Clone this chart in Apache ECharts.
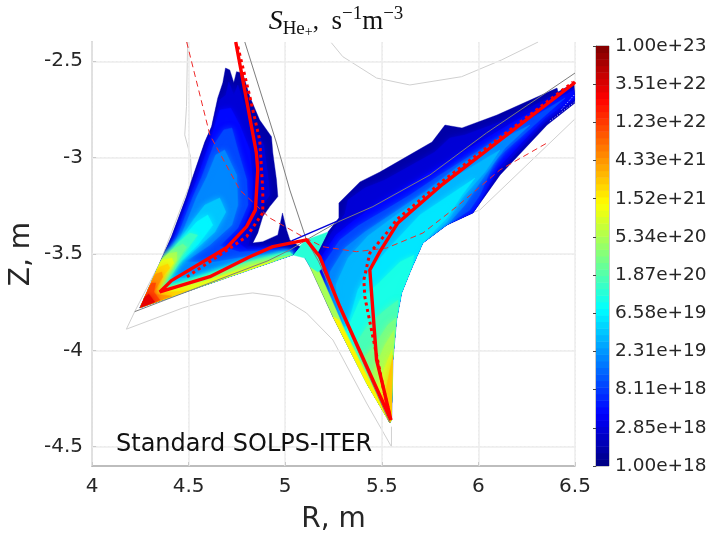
<!DOCTYPE html>
<html><head><meta charset="utf-8">
<script src="https://cdn.jsdelivr.net/npm/echarts@6/dist/echarts.min.js"></script>
<style>html,body{margin:0;background:#fff}#c{width:710px;height:534px}</style></head>
<body><div id="c"></div>
<script>
const rTicks=[4,4.5,5,5.5,6,6.5];
const zTicks=[-4.5,-4,-3.5,-3,-2.5];
const cbLabels=['1.00e+18','2.85e+18','8.11e+18','2.31e+19','6.58e+19','1.87e+20','5.34e+20','1.52e+21','4.33e+21','1.23e+22','3.51e+22','1.00e+23'];

const redSolid=[[4.744,-2.4],[4.851,-2.976],[4.858,-3.064],[4.846,-3.271],[4.8,-3.358],[4.696,-3.468],[4.411,-3.638],[4.351,-3.697],[4.61,-3.618],[4.817,-3.514],[4.936,-3.462],[5.11,-3.427],[5.179,-3.514],[5.283,-3.774],[5.547,-4.361],[5.507,-4.188],[5.473,-4.05],[5.438,-3.583],[5.49,-3.488],[5.583,-3.339],[5.816,-3.137],[6.49,-2.618],[6.5,-2.607]];
const redDotted=[[4.755,-2.424],[4.817,-2.684],[4.868,-2.908],[4.884,-3.168],[4.884,-3.287],[4.8,-3.41],[4.677,-3.495],[4.48,-3.626]];
const redDotted2=[[5.547,-4.361],[5.506,-4.188],[5.412,-3.722],[5.407,-3.635],[5.438,-3.495],[5.531,-3.384],[5.576,-3.323],[5.817,-3.12],[6.49,-2.608]];
const redDashed=[[4.49,-2.4],[4.61,-2.882],[4.765,-3.168],[4.92,-3.313],[5.091,-3.41],[5.194,-3.462],[5.369,-3.488],[5.525,-3.469],[5.713,-3.391],[5.888,-3.254],[6.111,-3.064],[6.355,-2.924]];
const blueLine=[[5.033,-3.432],[5.273,-3.328]];
const grayA=[[4.791,-2.4],[4.955,-2.924],[5.024,-3.168],[5.11,-3.427],[5.174,-3.541],[5.541,-4.376]];
const grayB=[[4.221,-3.799],[4.911,-3.535],[5.024,-3.479],[5.127,-3.417],[5.272,-3.334],[5.454,-3.254],[5.749,-3.09],[6.042,-2.872],[6.5,-2.561]];
const wallLow=[[4.178,-3.89],[4.47,-3.78],[4.661,-3.723],[4.832,-3.702],[4.972,-3.721],[5.11,-3.806],[5.247,-3.946],[5.421,-4.273],[5.55,-4.5],[5.55,-4.396]];
const wallLeft=[[4.178,-3.89],[4.221,-3.799],[4.351,-3.546],[4.515,-3.116],[4.51,-2.995],[4.48,-2.882],[4.489,-2.735],[4.495,-2.4]];
const wallTop=[[5.239,-2.404],[5.298,-2.476],[5.473,-2.587],[5.645,-2.623],[5.913,-2.58],[6.12,-2.493],[6.309,-2.4]];
const wallRight=[[5.966,-3.287],[6.008,-3.271],[6.5,-2.799]];
const speckA=[[6.43,-2.75],[6.5,-2.67]];
const speckB=[[6.37,-2.81],[6.5,-2.71]];

const tip=[4.247,-3.78], stripEnd=[5.039,-3.505];
const L1=[tip,[4.351,-3.546],[4.411,-3.41],[4.489,-3.202],[4.522,-3.099],[4.584,-2.918],[4.619,-2.839],[4.651,-2.69],[4.677,-2.612],[4.691,-2.535],[4.713,-2.545],[4.734,-2.612],[4.748,-2.554],[4.78,-2.561],[4.817,-2.684],[4.868,-2.805],[4.929,-2.891],[4.936,-2.976],[4.955,-3.116],[4.962,-3.202],[4.92,-3.254],[4.884,-3.306],[4.858,-3.391],[4.832,-3.443],[4.884,-3.436],[4.962,-3.401],[4.986,-3.287],[5.007,-3.375],[5.024,-3.427],[5.076,-3.462],stripEnd];
const L2=[tip,[4.358,-3.546],[4.418,-3.412],[4.496,-3.204],[4.532,-3.1],[4.594,-2.919],[4.63,-2.841],[4.661,-2.701],[4.693,-2.675],[4.708,-2.607],[4.734,-2.675],[4.755,-2.623],[4.781,-2.701],[4.827,-2.831],[4.889,-2.934],[4.91,-3.09],[4.92,-3.194],[4.858,-3.282],[4.827,-3.386],[4.807,-3.458],[4.895,-3.469],[5.024,-3.469],[5.076,-3.479],stripEnd];
const L3=[tip,[4.366,-3.546],[4.428,-3.412],[4.506,-3.204],[4.547,-3.1],[4.61,-2.919],[4.661,-2.753],[4.718,-2.742],[4.765,-2.831],[4.817,-2.96],[4.832,-3.116],[4.827,-3.246],[4.786,-3.355],[4.739,-3.427],[4.807,-3.479],[4.931,-3.464],[5.039,-3.479],stripEnd];
const L4=[tip,[4.371,-3.541],[4.439,-3.417],[4.522,-3.204],[4.568,-3.1],[4.63,-2.934],[4.682,-2.856],[4.724,-2.846],[4.755,-2.96],[4.801,-3.116],[4.807,-3.246],[4.755,-3.365],[4.661,-3.458],[4.765,-3.49],[4.92,-3.479],[5.039,-3.49],stripEnd];
const L5=[tip,[4.377,-3.541],[4.459,-3.412],[4.542,-3.204],[4.594,-3.1],[4.64,-2.986],[4.687,-2.96],[4.749,-3.09],[4.755,-3.246],[4.724,-3.35],[4.61,-3.453],[4.48,-3.541],[4.636,-3.541],[4.817,-3.51],[5.039,-3.495],stripEnd];
const L6=[tip,[4.382,-3.541],[4.454,-3.427],[4.532,-3.313],[4.584,-3.246],[4.661,-3.209],[4.693,-3.282],[4.636,-3.386],[4.532,-3.479],[4.444,-3.557],[4.403,-3.625],[4.506,-3.625],[4.687,-3.573],[4.972,-3.505],stripEnd];
const L7=[tip,[4.392,-3.521],[4.47,-3.417],[4.542,-3.334],[4.599,-3.298],[4.625,-3.35],[4.547,-3.453],[4.454,-3.541],[4.408,-3.614],[4.366,-3.676],[4.532,-3.625],[4.765,-3.552],[4.998,-3.49],stripEnd];
const L8=[tip,[4.377,-3.521],[4.444,-3.443],[4.506,-3.391],[4.547,-3.402],[4.49,-3.479],[4.428,-3.557],[4.392,-3.625],[4.351,-3.687],[4.558,-3.625],[4.765,-3.557],[5.024,-3.49],stripEnd];
const L9=[tip,[4.351,-3.541],[4.413,-3.479],[4.47,-3.448],[4.49,-3.464],[4.444,-3.531],[4.403,-3.594],[4.366,-3.661],[4.345,-3.702],[4.584,-3.625],[4.817,-3.541],stripEnd];
const L10=[tip,[4.33,-3.557],[4.392,-3.5],[4.439,-3.49],[4.439,-3.531],[4.403,-3.583],[4.366,-3.645],[4.34,-3.702],[4.584,-3.64],[4.817,-3.557],[5.024,-3.505]];
const L11=[tip,[4.315,-3.594],[4.366,-3.531],[4.413,-3.521],[4.423,-3.546],[4.387,-3.594],[4.356,-3.656],[4.33,-3.702],[4.558,-3.65],[4.817,-3.568],[4.946,-3.536]];
const L12=[tip,[4.304,-3.625],[4.351,-3.568],[4.392,-3.552],[4.403,-3.573],[4.366,-3.614],[4.34,-3.676],[4.32,-3.707],[4.506,-3.687]];
const L13=[tip,[4.294,-3.65],[4.33,-3.604],[4.361,-3.594],[4.366,-3.619],[4.335,-3.671],[4.309,-3.707],[4.413,-3.718]];
const L14=[tip,[4.278,-3.692],[4.309,-3.65],[4.33,-3.65],[4.32,-3.697],[4.351,-3.739]];
const L15=[tip,[4.268,-3.728],[4.294,-3.707],[4.309,-3.728],[4.325,-3.749]];
const leftValues=[1.5e18,2.5e18,5e18,1e19,2e19,4e19,7e19,1.3e20,2.5e20,5e20,1e21,2e21,4e21,1e22,3e22];

const legTail=[[5.713,-3.443],[5.651,-3.583],[5.603,-3.702],[5.577,-3.842],[5.558,-4.05],[5.551,-4.361],[5.542,-4.377]];
const mid=[5.421,-4.17], lowEdge=[5.247,-3.825], fan1=[5.972,-3.287], fan2=[5.837,-3.35];
const R1=[[5.164,-3.5],[5.221,-3.386],[5.278,-3.313],[5.278,-3.235],[5.387,-3.126],[5.49,-3.075],[5.76,-2.919],[5.827,-2.831],[5.915,-2.846],[6.096,-2.779],[6.407,-2.639],[6.412,-2.659],[6.495,-2.613],[6.5,-2.716],[6.355,-2.831],[6.112,-3.09],fan1,fan2,...legTail,mid,lowEdge,[5.128,-3.566],[5.102,-3.521],[5.107,-3.427]];
const R2=[[5.18,-3.49],[5.242,-3.386],[5.309,-3.292],[5.325,-3.22],[5.412,-3.158],[5.516,-3.116],[5.775,-2.971],[5.852,-2.898],[5.93,-2.882],[6.112,-2.815],[6.397,-2.675],[6.495,-2.639],[6.5,-2.701],[6.345,-2.815],[6.101,-3.075],fan1,fan2,...legTail,mid,lowEdge,[5.169,-3.635],[5.169,-3.505]];
const R3=[[5.19,-3.51],[5.262,-3.402],[5.345,-3.334],[5.464,-3.246],[5.594,-3.168],[5.749,-3.075],[5.956,-2.95],[6.215,-2.794],[6.495,-2.649],[6.5,-2.69],[6.345,-2.794],[6.101,-3.054],[5.998,-3.246],fan1,fan2,...legTail,mid,lowEdge,[5.19,-3.661]];
const R4=[[5.206,-3.541],[5.283,-3.427],[5.376,-3.355],[5.516,-3.272],[5.646,-3.194],[5.801,-3.09],[6.008,-2.96],[6.215,-2.831],[6.449,-2.69],[6.319,-2.805],[6.086,-3.012],[6.008,-3.194],[5.956,-3.272],fan2,...legTail,mid,lowEdge,[5.211,-3.687]];
const R5=[[5.231,-3.594],[5.309,-3.469],[5.412,-3.386],[5.568,-3.282],[5.723,-3.178],[5.904,-3.038],[6.112,-2.908],[6.267,-2.831],[6.138,-2.95],[6.034,-3.09],[5.93,-3.246],fan2,...legTail,mid,[5.268,-3.832],[5.231,-3.713]];
const R6=[[5.262,-3.661],[5.325,-3.521],[5.428,-3.407],[5.568,-3.303],[5.723,-3.199],[5.904,-3.085],[6.112,-2.96],[6.034,-3.075],[5.915,-3.209],[5.837,-3.334],...legTail,mid,[5.309,-3.895],[5.273,-3.765]];
const R7=[[5.325,-3.869],[5.376,-3.687],[5.438,-3.583],[5.552,-3.453],[5.697,-3.298],[5.852,-3.194],[5.982,-3.106],[5.915,-3.194],[5.837,-3.313],[5.775,-3.375],...legTail,mid,[5.283,-3.895]];
const R8=[[5.309,-3.92],[5.386,-3.74],[5.49,-3.645],[5.594,-3.541],[5.667,-3.505],...legTail.slice(1),mid,[5.273,-3.869]];
const R9=[[5.345,-3.998],[5.428,-3.869],[5.516,-3.791],[5.584,-3.739],...legTail.slice(3),mid,[5.309,-3.946]];
const R10=[[5.376,-4.076],[5.464,-3.972],[5.531,-3.869],[5.573,-3.832],...legTail.slice(4),mid,[5.345,-4.009]];
const R11=[[5.449,-4.128],[5.516,-3.972],[5.563,-3.895],...legTail.slice(4),[5.397,-4.128]];
const R12=[[5.48,-4.18],[5.531,-4.05],[5.552,-3.998],...legTail.slice(5),[5.428,-4.196]];
const R13=[[5.516,-4.232],[5.542,-4.102],[5.558,-4.024],...legTail.slice(5),[5.464,-4.248]];
const rightValues=[1.5e18,2.5e18,5e18,1e19,2e19,3.5e19,6e19,1e20,1.6e20,2.8e20,5e20,9e20,2.5e21];

const legEdgeA=[[5.128,-3.566],[5.169,-3.573],[5.309,-3.895],[5.516,-4.319],[5.542,-4.377],mid,lowEdge];
const legEdgeB=[lowEdge,[5.278,-3.842],[5.531,-4.35],[5.542,-4.377],mid];
const xCell=[[5.039,-3.505],[5.076,-3.458],[5.107,-3.427],[5.221,-3.386],[5.164,-3.5],[5.195,-3.573],[5.169,-3.594],[5.128,-3.566],[5.102,-3.521]];
const extraValues=[5e20,1.4e21,1.1e20];

function jet(t){t=Math.max(0,Math.min(1,t));
 const f=(x)=>Math.round(255*Math.max(0,Math.min(1,1.5-Math.abs(4*t-x))));
 return 'rgb('+f(3)+','+f(2)+','+f(1)+')';}
const colorOf=v=>{const t=(Math.log10(v)-18)/5;return jet((Math.floor(t*64)+0.5)/64);};

const rightBands=[R1,R2,R3,R4,R5,R6,R7,R8,R9,R10,R11,R12,R13];
const leftBands=[L1,L2,L3,L4,L5,L6,L7,L8,L9,L10,L11,L12,L13,L14,L15];
const extraBands=[legEdgeA,legEdgeB,xCell];
const bands=[];
rightBands.forEach((p,i)=>bands.push({p,v:rightValues[i],clip:i?R1:null}));
extraBands.forEach((p,i)=>bands.push({p,v:extraValues[i],clip:null}));
leftBands.forEach((p,i)=>bands.push({p,v:leftValues[i],clip:i?L1:null}));

const levels=Array.from({length:64},(_,i)=>i);
const dark='#262626', fontF='"DejaVu Sans",sans-serif', serif='"Liberation Serif",serif';

function line(data,color,width,type,z){return {type:'line',data,symbol:'none',silent:true,clip:true,z,
  lineStyle:{color,width,type:type||'solid'}};}

const option={animation:false,backgroundColor:'#fff',
 title:{left:331,top:0,textAlign:'center',
  text:'{s|S}{sub|He}{subp|+}{c|,  }{m|s}{sup|\u22121}{m|m}{sup|\u22123}',
  textStyle:{fontWeight:'normal',rich:{
   s:{fontFamily:serif,fontStyle:'italic',fontWeight:'normal',fontSize:28,color:'#111',lineHeight:34,verticalAlign:'middle'},
   sub:{fontFamily:serif,fontWeight:'normal',fontSize:19,color:'#111',lineHeight:16,verticalAlign:'bottom'},
   subp:{fontFamily:serif,fontWeight:'normal',fontSize:14,color:'#111',lineHeight:26,verticalAlign:'bottom'},
   c:{fontFamily:serif,fontWeight:'normal',fontSize:25,color:'#111',lineHeight:34,verticalAlign:'middle'},
   m:{fontFamily:serif,fontWeight:'normal',fontSize:27,color:'#111',lineHeight:34,verticalAlign:'middle'},
   sup:{fontFamily:serif,fontWeight:'normal',fontSize:19,color:'#111',lineHeight:18,verticalAlign:'top'}
  }}},
 grid:[{left:92,top:42,width:483,height:424,outerBoundsMode:'none'},
       {left:596,top:46,width:13,height:420,show:true,borderColor:'#666',borderWidth:0.7,outerBoundsMode:'none'}],
 xAxis:[{gridIndex:0,type:'value',min:4,max:6.5,interval:0.1,
   name:'R, m',nameLocation:'middle',nameGap:40,nameTextStyle:{fontSize:28,color:dark,fontFamily:fontF},
   axisLine:{show:true,onZero:false,lineStyle:{color:'#a8a8a8',width:1.5}},
   axisTick:{show:true,inside:true,length:4,customValues:rTicks,lineStyle:{color:'#666',width:1}},
   axisLabel:{customValues:rTicks,fontSize:20,color:dark,fontFamily:fontF,margin:11,formatter:v=>String(v)},
   splitLine:{show:true,lineStyle:{color:'#e8e8e8',width:1,type:[1.5,2.5]}}},
  {gridIndex:1,type:'value',min:0,max:1,show:false}],
 yAxis:[{gridIndex:0,type:'value',min:-4.6,max:-2.4,interval:0.1,
   name:'Z, m',nameLocation:'middle',nameGap:56,nameRotate:90,nameMoveOverlap:false,nameTextStyle:{fontSize:28,color:dark,fontFamily:fontF},
   axisLine:{show:true,onZero:false,lineStyle:{color:'#a8a8a8',width:1.5}},
   axisTick:{show:true,inside:true,length:4,customValues:zTicks,lineStyle:{color:'#666',width:1}},
   axisLabel:{customValues:zTicks,fontSize:20,color:dark,fontFamily:fontF,margin:9,formatter:v=>String(v)},
   splitLine:{show:true,lineStyle:{color:'#e8e8e8',width:1,type:[1.5,2.5]}}},
  {gridIndex:1,type:'value',min:0,max:11,interval:1,position:'right',
   axisLine:{show:true,lineStyle:{color:'#666',width:0.7}},
   axisTick:{show:true,inside:true,length:3,lineStyle:{color:'#444',width:1}},
   axisLabel:{fontSize:18.5,color:dark,fontFamily:fontF,margin:6,formatter:(v)=>cbLabels[Math.round(v)]},
   splitLine:{show:false}}],
 graphic:[{type:'text',left:116,top:433,z:60,style:{text:'Standard SOLPS-ITER',fontSize:24,fontFamily:fontF,fill:'#111'}}],
 series:[
  {type:'line',data:[],silent:true,z:1,symbol:'none',
   markLine:{silent:true,symbol:'none',label:{show:false},animation:false,lineStyle:{color:'#ececec',width:1.5,type:'solid'},
    data:[...rTicks.map(x=>({xAxis:x})),...zTicks.map(y=>({yAxis:y}))]}},
  line(wallLow,'#d0d0d0',1,null,3),line(wallLeft,'#d0d0d0',1,null,3),line(wallTop,'#d0d0d0',1,null,3),line(wallRight,'#d0d0d0',1,null,3),
  {type:'custom',z:5,clip:true,data:bands.map(b=>[b.v]),encode:{x:[],y:[]},
   renderItem(params,api){const b=bands[params.dataIndex];const c=colorOf(b.v);
    const el={type:'polygon',shape:{points:b.p.map(q=>api.coord(q))},style:{fill:c,stroke:c,lineWidth:0.4}};
    if(b.clip){el.style.shadowBlur=6;el.style.shadowColor=c;
      el.clipPath={type:'polygon',shape:{points:b.clip.map(q=>api.coord(q))}};}
    return el;}},
  line(speckA,'#ffffff',0.8,[1,2],6),line(speckB,'#ffffff',0.8,[1,2],6),
  line(grayA,'#7d7d7d',1,null,7),line(grayB,'#7d7d7d',1,null,7),
  line(blueLine,'#0000d8',1.5,null,8),
  line(redDashed,'#ee2a2a',1,[6,4],9),
  line(redDotted,'#ff0000',3,[3,3.5],10),line(redDotted2,'#ff0000',3,[3,3.5],10),
  line(redSolid,'#ff0000',3.4,null,11),
  {type:'custom',xAxisIndex:1,yAxisIndex:1,z:5,clip:true,data:levels.map(i=>[i]),encode:{x:[],y:[]},
   renderItem(params,api){const i=params.dataIndex;
    const a=api.coord([0,i*11/64]),b=api.coord([1,(i+1)*11/64]);
    return {type:'rect',shape:{x:a[0],y:b[1],width:b[0]-a[0],height:a[1]-b[1]+0.5},style:{fill:jet((i+0.5)/64)}};}}
 ]};
echarts.init(document.getElementById('c'),null,{renderer:'canvas'}).setOption(option);
</script></body></html>
